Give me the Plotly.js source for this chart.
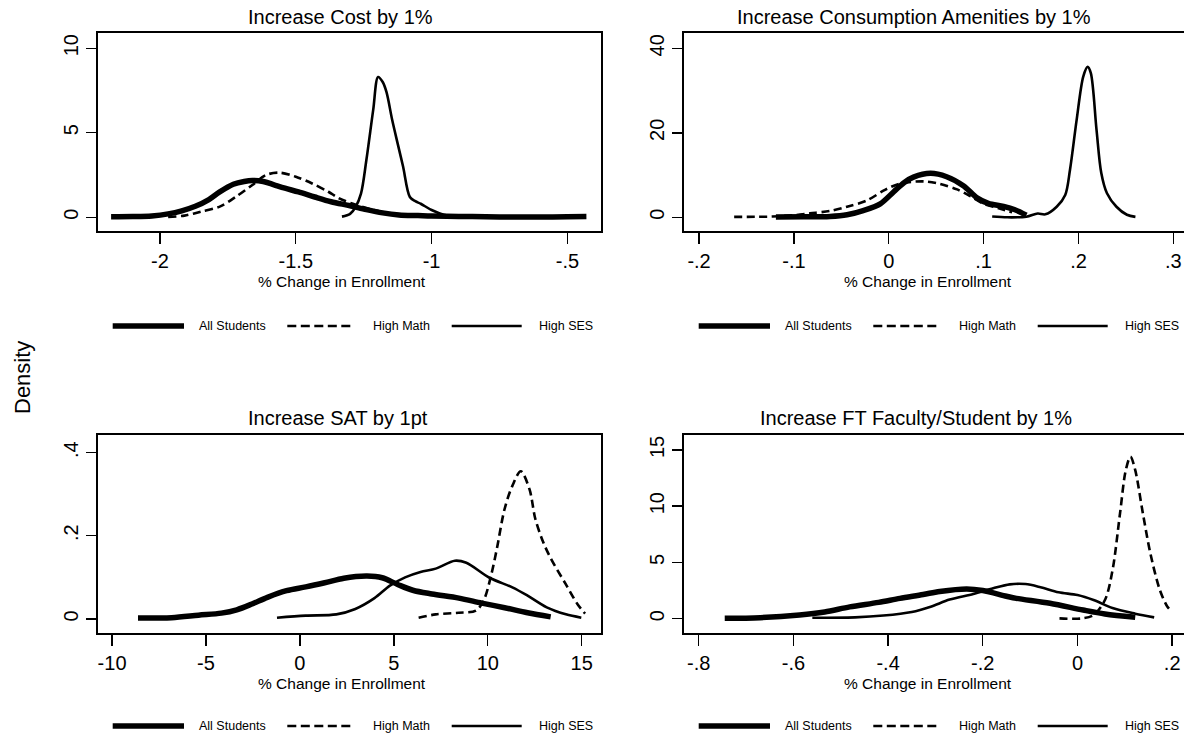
<!DOCTYPE html>
<html>
<head>
<meta charset="utf-8">
<script src="https://cdn.plot.ly/plotly-3.0.1.min.js"></script>
<style>
html,body{margin:0;padding:0;overflow:hidden;background:#fff;}
#chart{width:1200px;height:739px;}
</style>
</head>
<body>
<div id="chart"></div>
<script>
// ---------- DATA ----------
const seriesNames = ["All Students", "High Math", "High SES"];
const panelTitles = ["Increase Cost by 1%", "Increase Consumption Amenities by 1%",
                     "Increase SAT by 1pt", "Increase FT Faculty/Student by 1%"];
const xAxisTitle = "% Change in Enrollment";
const yAxisTitle = "Density";

// Panel 1: Increase Cost by 1%
const costAllX = [-2.18,-2.1,-2.03,-1.97,-1.92,-1.87,-1.82,-1.78,-1.73,-1.69,-1.66,-1.62,-1.58,-1.54,-1.49,-1.43,-1.37,-1.30,-1.24,-1.18,-1.12,-1.05,-1.0,-0.9,-0.8,-0.7,-0.6,-0.5,-0.43];
const costAllY = [0.03,0.04,0.08,0.2,0.38,0.65,1.05,1.5,1.95,2.12,2.18,2.12,1.92,1.72,1.5,1.2,0.92,0.68,0.45,0.26,0.14,0.1,0.07,0.05,0.03,0.01,0.02,0.03,0.04];
const costMathX = [-1.97,-1.91,-1.85,-1.78,-1.72,-1.66,-1.61,-1.56,-1.50,-1.44,-1.38,-1.34,-1.29,-1.24,-1.18,-1.12,-1.05,-1.0];
const costMathY = [0.02,0.1,0.33,0.63,1.22,1.91,2.5,2.64,2.4,2.0,1.51,1.12,0.8,0.55,0.3,0.15,0.07,0.04];
const costSesX = [-1.33,-1.30,-1.28,-1.26,-1.24,-1.215,-1.197,-1.18,-1.166,-1.145,-1.124,-1.105,-1.08,-1.06,-1.04,-1.0,-0.955,-0.9];
const costSesY = [0.04,0.2,0.6,1.4,3.4,6.35,8.3,8.0,7.4,5.75,4.3,3.0,1.2,0.95,0.8,0.43,0.15,0.04];

// Panel 2: Increase Consumption Amenities by 1%
const amenAllX = [-0.119,-0.09,-0.062,-0.044,-0.027,-0.009,0.005,0.016,0.026,0.044,0.061,0.079,0.093,0.105,0.121,0.133,0.145];
const amenAllY = [0.1,0.12,0.2,0.6,1.6,3.2,6.0,8.2,9.5,10.4,9.6,7.4,4.6,3.3,2.6,1.8,0.5];
const amenMathX = [-0.163,-0.14,-0.123,-0.1,-0.083,-0.062,-0.044,-0.023,-0.004,0.012,0.037,0.054,0.072,0.086,0.1,0.115,0.13];
const amenMathY = [0.1,0.12,0.18,0.5,0.94,1.5,2.5,4.0,6.5,8.0,8.5,7.9,6.6,5.0,3.2,2.2,1.2];
const amenSesX = [0.109,0.125,0.145,0.157,0.165,0.177,0.186,0.191,0.198,0.205,0.2096,0.213,0.219,0.224,0.23,0.24,0.251,0.26];
const amenSesY = [0.2,0.0,0.15,0.9,0.7,2.5,5.3,11.2,23,33.3,35.6,34.1,20.7,10.5,5.7,2.5,0.6,0.1];

// Panel 3: Increase SAT by 1pt
const satAllX = [-8.62,-6.83,-5.4,-4.18,-3.36,-2.55,-1.73,-0.71,0.31,1.32,2.34,3.57,4.38,5.2,6.01,7.03,8.46,9.68,10.9,12.12,13.35];
const satAllY = [0.002,0.003,0.009,0.014,0.022,0.036,0.052,0.068,0.077,0.087,0.098,0.103,0.099,0.083,0.069,0.06,0.05,0.038,0.027,0.015,0.005];
const satMathX = [6.32,7.23,8.46,9.37,9.78,10.19,10.49,10.9,11.31,11.76,12.22,12.53,12.94,13.35,14.16,14.77,15.18];
const satMathY = [0.003,0.011,0.015,0.02,0.044,0.107,0.17,0.265,0.32,0.355,0.312,0.241,0.186,0.146,0.083,0.036,0.013];
const satSesX = [-1.22,0.31,1.94,2.95,3.97,4.79,5.6,6.42,7.23,8.25,8.86,10.09,11.31,12.12,13.14,14.16,14.98];
const satSesY = [0.003,0.008,0.011,0.024,0.05,0.08,0.1,0.113,0.121,0.14,0.135,0.099,0.076,0.056,0.028,0.011,0.003];

// Panel 4: Increase FT Faculty/Student by 1%
const facAllX = [-0.745,-0.67,-0.587,-0.534,-0.481,-0.42,-0.375,-0.326,-0.291,-0.234,-0.2,-0.15,-0.129,-0.058,0.012,0.058,0.122];
const facAllY = [0.03,0.09,0.33,0.6,1.05,1.45,1.81,2.15,2.42,2.64,2.5,2.0,1.81,1.37,0.77,0.42,0.12];
const facMathX = [-0.038,0.01,0.034,0.058,0.074,0.09,0.102,0.112,0.122,0.138,0.154,0.174,0.19,0.2];
const facMathY = [0.03,0.03,0.33,1.66,4.3,9.4,13.2,14.4,13.2,9.4,5.8,2.55,1.07,0.62];
const facSesX = [-0.56,-0.47,-0.41,-0.35,-0.31,-0.27,-0.22,-0.178,-0.143,-0.11,-0.078,-0.04,0.0,0.034,0.074,0.122,0.162];
const facSesY = [0.08,0.12,0.28,0.6,1.07,1.7,2.2,2.7,3.05,3.08,2.8,2.35,2.1,1.66,0.95,0.45,0.12];

// Tick values / labels
const costTicks = [-2,-1.5,-1,-0.5], costTickText = ["-2","-1.5","-1","-.5"];
const amenTicks = [-0.2,-0.1,0,0.1,0.2,0.3], amenTickText = ["-.2","-.1","0",".1",".2",".3"];
const satTicks = [-10,-5,0,5,10,15], satTickText = ["-10","-5","0","5","10","15"];
const facTicks = [-0.8,-0.6,-0.4,-0.2,0,0.2], facTickText = ["-.8","-.6","-.4","-.2","0",".2"];
const costYTicks = [0,5,10], costYText = ["0","5","10"];
const amenYTicks = [0,20,40], amenYText = ["0","20","40"];
const satYTicks = [0,0.2,0.4], satYText = ["0",".2",".4"];
const facYTicks = [0,5,10,15], facYText = ["0","5","10","15"];

// ---------- LAYOUT HELPERS ----------
const W = 1200, H = 739;
const px = v => v / W;
const py = v => 1 - v / H;
const FONT = '"Liberation Sans", Arial, Helvetica, sans-serif';

const styles = [
  {width: 5.5, dash: 'solid'},
  {width: 2.6, dash: '8px,4.5px'},
  {width: 2.6, dash: 'solid'}
];

const panels = [
  {xs:[costAllX,costMathX,costSesX], ys:[costAllY,costMathY,costSesY]},
  {xs:[amenAllX,amenMathX,amenSesX], ys:[amenAllY,amenMathY,amenSesY]},
  {xs:[satAllX,satMathX,satSesX], ys:[satAllY,satMathY,satSesY]},
  {xs:[facAllX,facMathX,facSesX], ys:[facAllY,facMathY,facSesY]}
];

const traces = [];
panels.forEach((p, i) => {
  const sfx = i === 0 ? '' : String(i + 1);
  for (let k = 0; k < 3; k++) {
    traces.push({
      type: 'scatter', mode: 'lines',
      x: p.xs[k], y: p.ys[k], name: seriesNames[k],
      xaxis: 'x' + sfx, yaxis: 'y' + sfx, showlegend: false,
      line: {color: '#000', width: styles[k].width, dash: styles[k].dash, shape: 'spline', smoothing: 0.9},
      hoverinfo: 'skip'
    });
  }
});

function xax(dom, range, tv, tt, anchor) {
  return {domain: dom, range: range, tickvals: tv, ticktext: tt, anchor: anchor,
    ticks: 'outside', ticklen: 11, tickwidth: 1.4, tickcolor: '#000',
    showline: true, mirror: true, linewidth: 1.6, linecolor: '#000',
    showgrid: false, zeroline: false, fixedrange: true,
    tickfont: {family: FONT, size: 20, color: '#000'}};
}
function yax(dom, range, tv, tt, anchor) {
  return {domain: dom, range: range, tickvals: tv, ticktext: tt, anchor: anchor,
    ticks: 'outside', ticklen: 10, tickwidth: 1.4, tickcolor: '#000',
    showline: true, mirror: true, linewidth: 1.6, linecolor: '#000',
    showgrid: false, zeroline: false, fixedrange: true, tickangle: -90,
    tickfont: {family: FONT, size: 20, color: '#000'}};
}

const LX = [px(97.6), px(601.4)], RX = [px(683.6), px(1187.6)];
const TY = [py(231), py(32.7)], BY = [py(633), py(434.5)];

const layout = {
  width: W, height: H,
  margin: {l: 0, r: 0, t: 0, b: 0},
  paper_bgcolor: '#fff', plot_bgcolor: '#fff',
  showlegend: false,
  font: {family: FONT, color: '#000'},
  xaxis: xax(LX, [-2.2297, -0.3748], costTicks, costTickText, 'y'),
  yaxis: yax(TY, [-0.811, 10.917], costYTicks, costYText, 'x'),
  xaxis2: xax(RX, [-0.2163, 0.315], amenTicks, amenTickText, 'y2'),
  yaxis2: yax(TY, [-3.24, 43.69], amenYTicks, amenYText, 'x2'),
  xaxis3: xax(LX, [-10.77, 16.05], satTicks, satTickText, 'y3'),
  yaxis3: yax(BY, [-0.0338, 0.4435], satYTicks, satYText, 'x3'),
  xaxis4: xax(RX, [-0.8319, 0.2326], facTicks, facTickText, 'y4'),
  yaxis4: yax(BY, [-1.27, 16.37], facYTicks, facYText, 'x4'),
  annotations: [], shapes: []
};

// Panel titles
const titlePos = [[340, 17], [914, 17], [338, 418], [916, 418]];
panelTitles.forEach((t, i) => {
  layout.annotations.push({text: t, xref: 'paper', yref: 'paper',
    x: px(titlePos[i][0]), y: py(titlePos[i][1]), xanchor: 'center', yanchor: 'middle',
    showarrow: false, font: {family: FONT, size: 20, color: '#000'}});
});
// X axis titles
[[342, 281], [928, 281], [342, 683], [928, 683]].forEach(p => {
  layout.annotations.push({text: xAxisTitle, xref: 'paper', yref: 'paper',
    x: px(p[0]), y: py(p[1]), xanchor: 'center', yanchor: 'middle',
    showarrow: false, font: {family: FONT, size: 15.5, color: '#000'}});
});
// Shared y title
layout.annotations.push({text: yAxisTitle, xref: 'paper', yref: 'paper',
  x: px(22), y: py(378), xanchor: 'center', yanchor: 'middle', textangle: -90,
  showarrow: false, font: {family: FONT, size: 22, color: '#000'}});

// Legends (one per panel, Stata-style row below each plot)
const legendRows = [[0, 326], [586, 326], [0, 726], [586, 726]];
const legSeg = [[112.7, 184], [287.3, 351.7], [451.7, 521.7]];
const legText = [197, 370.7, 536.7];
legendRows.forEach(r => {
  for (let k = 0; k < 3; k++) {
    layout.shapes.push({type: 'line', xref: 'paper', yref: 'paper',
      x0: px(legSeg[k][0] + r[0]), x1: px(legSeg[k][1] + r[0]), y0: py(r[1]), y1: py(r[1]),
      line: {color: '#000', width: k === 0 ? 5.5 : 2.6, dash: k === 1 ? '9px,4.5px' : 'solid'}});
    layout.annotations.push({text: seriesNames[k], xref: 'paper', yref: 'paper',
      x: px(legText[k] + r[0]), y: py(r[1]), xanchor: 'left', yanchor: 'middle',
      showarrow: false, font: {family: FONT, size: 12.5, color: '#000'}});
  }
});

Plotly.newPlot('chart', traces, layout, {displayModeBar: false, staticPlot: true});
</script>
</body>
</html>
